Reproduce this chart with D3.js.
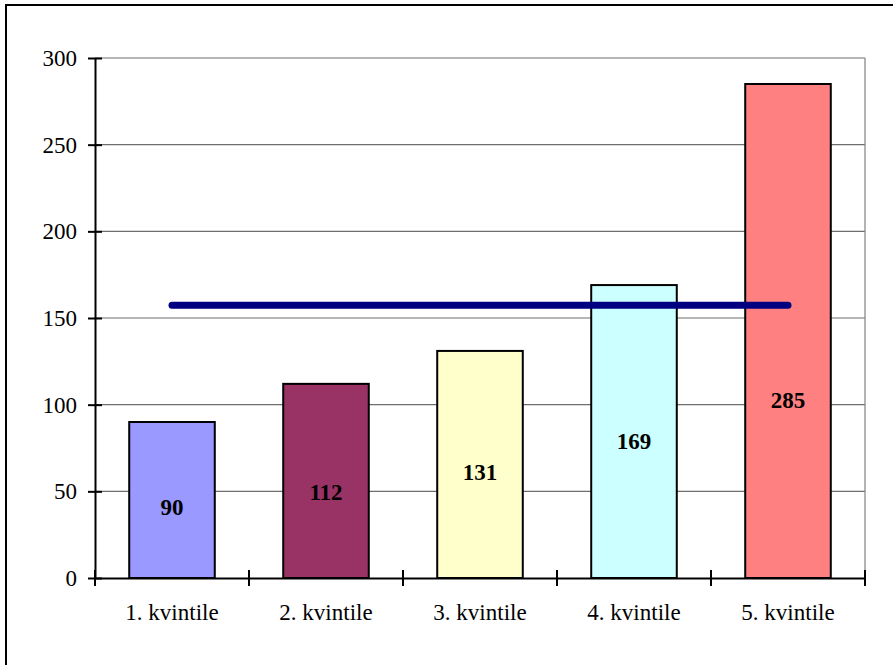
<!DOCTYPE html>
<html>
<head>
<meta charset="utf-8">
<script src="https://cdn.jsdelivr.net/npm/d3@7"></script>
<style>
  html, body { margin: 0; padding: 0; background: #fff; }
</style>
</head>
<body>
<div id="chart"></div>
<script>
// Data
const categories = ['1. kvintile', '2. kvintile', '3. kvintile', '4. kvintile', '5. kvintile'];
const values = [90, 112, 131, 169, 285];
const barColors = ['#9999FF', '#993366', '#FFFFCC', '#CCFFFF', '#FF8080'];
// average line (same value across all quintiles)
const averageLine = [157.4, 157.4, 157.4, 157.4, 157.4];
// where each value label sits on the value axis
const labelAt = [40.5, 49.5, 61, 79, 102.5];
const yTicks = [0, 50, 100, 150, 200, 250, 300];

const W = 893, H = 665;
const plot = { left: 95, right: 865, top: 58, bottom: 578 };
const FONT = 'Liberation Serif';

const svg = d3.select('#chart')
  .append('svg')
  .attr('width', W)
  .attr('height', H)
  .style('display', 'block');

// outer chart border (runs past the right / bottom edge of the picture)
svg.append('rect')
  .attr('x', 6)
  .attr('y', 5)
  .attr('width', 920)
  .attr('height', 700)
  .attr('fill', 'none')
  .attr('stroke', '#000')
  .attr('stroke-width', 2);

const x = d3.scaleBand()
  .domain(categories)
  .range([plot.left, plot.right])
  .padding(0);

const y = d3.scaleLinear()
  .domain([0, 300])
  .range([plot.bottom, plot.top]);

const barWidth = x.bandwidth() / 1.8;

// gridlines
svg.append('g')
  .selectAll('line')
  .data(yTicks.filter(d => d > 0))
  .join('line')
  .attr('x1', plot.left)
  .attr('x2', plot.right)
  .attr('y1', d => y(d))
  .attr('y2', d => y(d))
  .attr('stroke', '#6e6e6e')
  .attr('stroke-width', 1.2);

// plot area right border
svg.append('line')
  .attr('x1', plot.right)
  .attr('x2', plot.right)
  .attr('y1', plot.top)
  .attr('y2', plot.bottom)
  .attr('stroke', '#808080')
  .attr('stroke-width', 1.2);

// bars
svg.append('g')
  .selectAll('rect')
  .data(values)
  .join('rect')
  .attr('x', (d, i) => x(categories[i]) + (x.bandwidth() - barWidth) / 2)
  .attr('y', d => y(d))
  .attr('width', barWidth)
  .attr('height', d => y(0) - y(d))
  .attr('fill', (d, i) => barColors[i])
  .attr('stroke', '#000')
  .attr('stroke-width', 2);

// value labels
svg.append('g')
  .selectAll('text')
  .data(values)
  .join('text')
  .attr('x', (d, i) => x(categories[i]) + x.bandwidth() / 2)
  .attr('y', (d, i) => y(labelAt[i]))
  .attr('text-anchor', 'middle')
  .attr('dominant-baseline', 'central')
  .attr('font-family', FONT)
  .attr('font-size', 23)
  .attr('font-weight', 'bold')
  .attr('fill', '#000')
  .text(d => d);

// average line
const line = d3.line()
  .x((d, i) => x(categories[i]) + x.bandwidth() / 2)
  .y(d => y(d));

svg.append('path')
  .datum(averageLine)
  .attr('d', line)
  .attr('fill', 'none')
  .attr('stroke', '#000080')
  .attr('stroke-width', 7)
  .attr('stroke-linecap', 'round');

// y axis
const yAxis = svg.append('g')
  .attr('transform', `translate(${plot.left},0)`)
  .call(d3.axisLeft(y).tickValues(yTicks).tickSizeInner(7).tickSizeOuter(0).tickPadding(11));
yAxis.attr('font-family', FONT).attr('font-size', 23);
yAxis.select('.domain').attr('stroke', '#000').attr('stroke-width', 2);
yAxis.selectAll('.tick line').attr('x2', 7).attr('x1', -7).attr('stroke', '#000').attr('stroke-width', 2);
yAxis.selectAll('.tick text').attr('fill', '#000');

// x axis
const xAxis = svg.append('g')
  .attr('transform', `translate(0,${plot.bottom})`)
  .call(d3.axisBottom(x).tickSize(0).tickPadding(26));
xAxis.attr('font-family', FONT).attr('font-size', 23);
xAxis.select('.domain').attr('stroke', '#000').attr('stroke-width', 2);
xAxis.selectAll('.tick text').attr('fill', '#000');

// category boundary ticks
const boundaries = categories.map(c => x(c)).concat([plot.right]);
xAxis.append('g')
  .selectAll('line')
  .data(boundaries)
  .join('line')
  .attr('x1', d => d)
  .attr('x2', d => d)
  .attr('y1', -8)
  .attr('y2', 8)
  .attr('stroke', '#000')
  .attr('stroke-width', 2);
</script>
</body>
</html>
